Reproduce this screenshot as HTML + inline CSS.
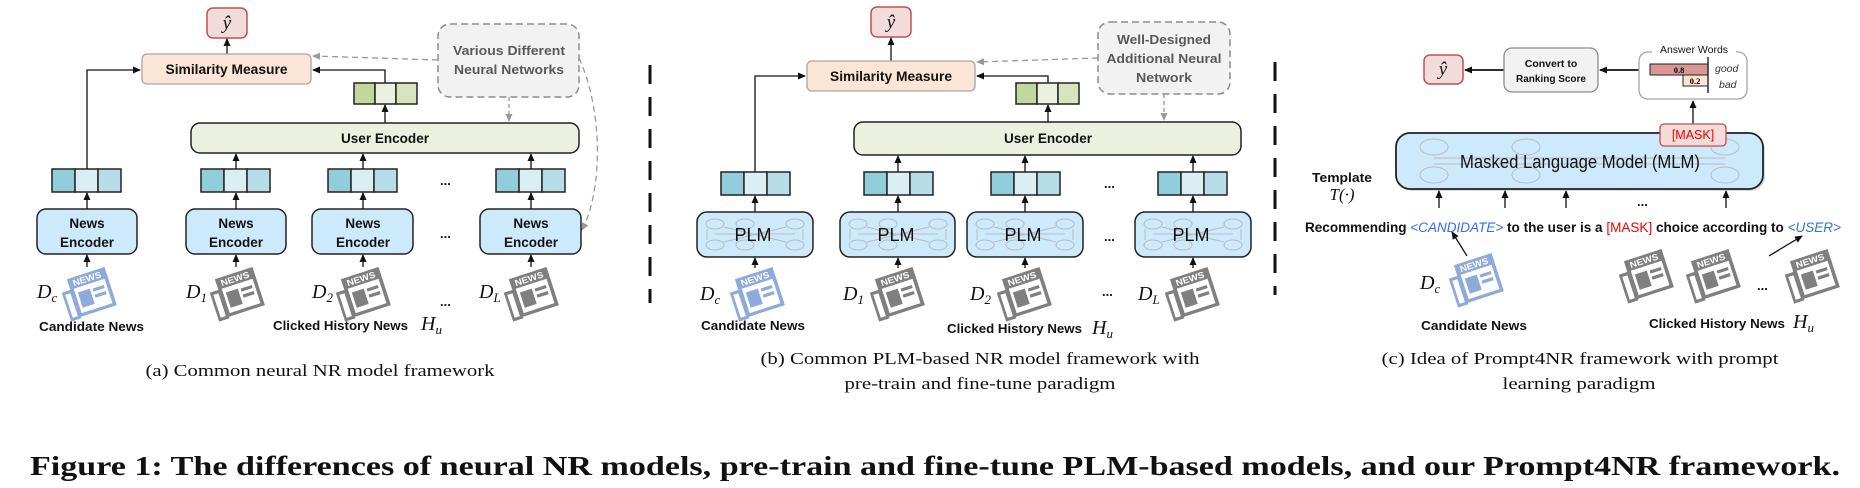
<!DOCTYPE html>
<html><head><meta charset="utf-8"><style>
html,body{margin:0;padding:0;background:#fff;}
svg{display:block;}
.lb{font-family:"Liberation Sans",sans-serif;font-weight:bold;fill:#111;}
.cap{font-family:"Liberation Serif",serif;fill:#111;font-size:17px;}
.it{font-family:"Liberation Serif",serif;font-style:italic;fill:#111;}
.nw{font-family:"Liberation Sans",sans-serif;font-weight:bold;font-size:11px;}
</style></head><body>
<svg width="1860" height="488" viewBox="0 0 1860 488" xmlns="http://www.w3.org/2000/svg">
<defs>
<marker id="ar" markerWidth="8" markerHeight="8" refX="7" refY="4" orient="auto" markerUnits="userSpaceOnUse"><path d="M0,0.5 L8,4 L0,7.5 z" fill="#111"/></marker>
<marker id="ag" markerWidth="8" markerHeight="8" refX="7" refY="4" orient="auto" markerUnits="userSpaceOnUse"><path d="M0,0.5 L8,4 L0,7.5 z" fill="#999"/></marker>
<g id="npb"><path d="M2 18 h12 v38 h-12 z" fill="#8eaadb"/><path d="M5 22 h6 v30 h-6 z" fill="#fff"/><rect x="12" y="4" width="44" height="50" fill="#8eaadb"/><rect x="16" y="18" width="36" height="32" fill="#fff"/><rect x="19" y="24" width="14" height="20" fill="#8eaadb"/><rect x="36" y="25" width="13" height="4" fill="#8eaadb"/><rect x="36" y="33" width="13" height="4" fill="#8eaadb"/><text x="17" y="15" class="nw" fill="#fff">NEWS</text></g>
<g id="npg"><path d="M2 18 h12 v38 h-12 z" fill="#7f7f7f"/><path d="M5 22 h6 v30 h-6 z" fill="#fff"/><rect x="12" y="4" width="44" height="50" fill="#7f7f7f"/><rect x="16" y="18" width="36" height="32" fill="#fff"/><rect x="19" y="24" width="14" height="20" fill="#7f7f7f"/><rect x="36" y="25" width="13" height="4" fill="#7f7f7f"/><rect x="36" y="33" width="13" height="4" fill="#7f7f7f"/><text x="17" y="15" class="nw" fill="#fff">NEWS</text></g>
<g id="vb"><rect x="0" y="0" width="23" height="23" fill="#92cddc" stroke="#222" stroke-width="1.5"/><rect x="23" y="0" width="23" height="23" fill="#daeef3" stroke="#222" stroke-width="1.5"/><rect x="46" y="0" width="23" height="23" fill="#b7dee8" stroke="#222" stroke-width="1.5"/></g>
<g id="vg"><rect x="0" y="0" width="21" height="21" fill="#c3d69b" stroke="#222" stroke-width="1.5"/><rect x="21" y="0" width="21" height="21" fill="#ebf1de" stroke="#222" stroke-width="1.5"/><rect x="42" y="0" width="21" height="21" fill="#d7e4bd" stroke="#222" stroke-width="1.5"/></g>
<g id="net" stroke="#bbb" fill="none" stroke-width="1"><ellipse cx="18" cy="10" rx="9" ry="5"/><ellipse cx="18" cy="31" rx="9" ry="5"/><ellipse cx="48" cy="10" rx="9" ry="5"/><ellipse cx="48" cy="31" rx="9" ry="5"/><ellipse cx="98" cy="10" rx="9" ry="5"/><ellipse cx="98" cy="31" rx="9" ry="5"/><path d="M18 20 L98 20 M27 13 L89 28 M27 28 L89 13 M10 15 v11 M106 15 v11"/></g>
</defs>

<!-- ===== Panel A ===== -->
<rect x="207" y="8" width="40" height="30" rx="6" fill="#f2dcdb" stroke="#c0504d" stroke-width="1.5"/>
<text x="227" y="29" class="it" font-size="19" text-anchor="middle">ŷ</text>
<line x1="227" y1="54" x2="227" y2="39" stroke="#111" stroke-width="1.3" marker-end="url(#ar)"/>
<rect x="142" y="54" width="169" height="30" rx="5" fill="#fbe5d6" stroke="#a6a6a6" stroke-width="1.3"/>
<text x="226.5" y="74" class="lb" font-size="13.5" text-anchor="middle" textLength="122" lengthAdjust="spacingAndGlyphs">Similarity Measure</text>
<rect x="438" y="24" width="141" height="73" rx="12" fill="#f2f2f2" stroke="#8c8c8c" stroke-width="1.5" stroke-dasharray="7,4"/>
<text x="509" y="55" class="lb" font-size="13" style="fill:#595959" text-anchor="middle" textLength="112" lengthAdjust="spacingAndGlyphs">Various Different</text>
<text x="509" y="74" class="lb" font-size="13" style="fill:#595959" text-anchor="middle" textLength="110" lengthAdjust="spacingAndGlyphs">Neural Networks</text>
<path d="M438 60 L313 56" stroke="#999" stroke-width="1.3" stroke-dasharray="6,4" fill="none" marker-end="url(#ag)"/>
<path d="M509 97 L509 121" stroke="#999" stroke-width="1.3" stroke-dasharray="4,3" fill="none" marker-end="url(#ag)"/>
<path d="M579 58 C603 110 603 190 582 230" stroke="#999" stroke-width="1.3" stroke-dasharray="6,4" fill="none" marker-end="url(#ag)"/>
<path d="M87 169 V70 H140" stroke="#111" stroke-width="1.3" fill="none" marker-end="url(#ar)"/>
<path d="M385 83 V70 H313" stroke="#111" stroke-width="1.3" fill="none" marker-end="url(#ar)"/>
<use href="#vg" x="354" y="83"/>
<line x1="385" y1="123" x2="385" y2="105" stroke="#111" stroke-width="1.3" marker-end="url(#ar)"/>
<rect x="191" y="123" width="388" height="30" rx="9" fill="#ebf1de" stroke="#222" stroke-width="1.5"/>
<text x="385" y="143" class="lb" font-size="13.5" text-anchor="middle" textLength="88" lengthAdjust="spacingAndGlyphs">User Encoder</text>
<g stroke="#111" stroke-width="1.3" marker-end="url(#ar)">
<line x1="236" y1="169" x2="236" y2="154"/><line x1="363" y1="169" x2="363" y2="154"/><line x1="531" y1="169" x2="531" y2="154"/>
<line x1="87" y1="209" x2="87" y2="193"/><line x1="236" y1="209" x2="236" y2="193"/><line x1="363" y1="209" x2="363" y2="193"/><line x1="531" y1="209" x2="531" y2="193"/>
<line x1="87" y1="267" x2="87" y2="255"/><line x1="236" y1="267" x2="236" y2="255"/><line x1="363" y1="267" x2="363" y2="255"/><line x1="531" y1="267" x2="531" y2="255"/>
</g>
<use href="#vb" x="52" y="169"/><use href="#vb" x="201" y="169"/><use href="#vb" x="328" y="169"/><use href="#vb" x="496" y="169"/>
<g fill="#cdeafd" stroke="#222" stroke-width="1.5">
<rect x="37" y="209" width="100" height="45" rx="9"/><rect x="186" y="209" width="100" height="45" rx="9"/><rect x="312" y="209" width="101" height="45" rx="9"/><rect x="480" y="209" width="101" height="45" rx="9"/></g>
<g class="lb" font-size="13.5" text-anchor="middle">
<text x="87" y="228">News</text><text x="87" y="247">Encoder</text>
<text x="236" y="228">News</text><text x="236" y="247">Encoder</text>
<text x="363" y="228">News</text><text x="363" y="247">Encoder</text>
<text x="531" y="228">News</text><text x="531" y="247">Encoder</text></g>
<g class="lb" font-size="13"><text x="440" y="185">...</text><text x="440" y="238">...</text><text x="440" y="306">...</text></g>
<g transform="translate(62,270) rotate(-18 27 25) scale(0.9,0.8)"><use href="#npb"/></g>
<g transform="translate(210,270) rotate(-18 27 25) scale(0.9,0.8)"><use href="#npg"/></g>
<g transform="translate(336,270) rotate(-18 27 25) scale(0.9,0.8)"><use href="#npg"/></g>
<g transform="translate(504,270) rotate(-18 27 25) scale(0.9,0.8)"><use href="#npg"/></g>
<g class="it" font-size="20"><text x="37" y="298">D<tspan font-size="13" dy="4">c</tspan></text><text x="186" y="298">D<tspan font-size="13" dy="4">1</tspan></text><text x="312" y="298">D<tspan font-size="13" dy="4">2</tspan></text><text x="479" y="298">D<tspan font-size="13" dy="4">L</tspan></text></g>
<text x="39" y="331" class="lb" font-size="13" textLength="105" lengthAdjust="spacingAndGlyphs">Candidate News</text>
<text x="273" y="330" class="lb" font-size="13" textLength="135" lengthAdjust="spacingAndGlyphs">Clicked History News</text>
<text x="421" y="330" class="it" font-size="20">H<tspan font-size="13" dy="4">u</tspan></text>
<text x="320" y="376" class="cap" text-anchor="middle" textLength="349" lengthAdjust="spacingAndGlyphs">(a) Common neural NR model framework</text>

<!-- separators -->
<line x1="650" y1="65" x2="650" y2="303" stroke="#111" stroke-width="3" stroke-dasharray="19,13"/>
<line x1="1275" y1="62" x2="1275" y2="295" stroke="#111" stroke-width="3" stroke-dasharray="19,13"/>

<!-- ===== Panel B ===== -->
<rect x="871" y="7" width="40" height="30" rx="6" fill="#f2dcdb" stroke="#c0504d" stroke-width="1.5"/>
<text x="891" y="28" class="it" font-size="19" text-anchor="middle">ŷ</text>
<line x1="891" y1="61" x2="891" y2="38" stroke="#111" stroke-width="1.3" marker-end="url(#ar)"/>
<rect x="807" y="61" width="168" height="30" rx="5" fill="#fbe5d6" stroke="#a6a6a6" stroke-width="1.3"/>
<text x="891" y="81" class="lb" font-size="13.5" text-anchor="middle" textLength="122" lengthAdjust="spacingAndGlyphs">Similarity Measure</text>
<rect x="1098" y="22" width="132" height="72" rx="12" fill="#f2f2f2" stroke="#8c8c8c" stroke-width="1.5" stroke-dasharray="7,4"/>
<text x="1164" y="44" class="lb" font-size="13" style="fill:#595959" text-anchor="middle" textLength="94" lengthAdjust="spacingAndGlyphs">Well-Designed</text>
<text x="1164" y="63" class="lb" font-size="13" style="fill:#595959" text-anchor="middle" textLength="115" lengthAdjust="spacingAndGlyphs">Additional Neural</text>
<text x="1164" y="82" class="lb" font-size="13" style="fill:#595959" text-anchor="middle" textLength="56" lengthAdjust="spacingAndGlyphs">Network</text>
<path d="M1098 58 L977 62" stroke="#999" stroke-width="1.3" stroke-dasharray="6,4" fill="none" marker-end="url(#ag)"/>
<path d="M1164 94 L1164 120" stroke="#999" stroke-width="1.3" stroke-dasharray="4,3" fill="none" marker-end="url(#ag)"/>
<path d="M755 172 V76 H805" stroke="#111" stroke-width="1.3" fill="none" marker-end="url(#ar)"/>
<path d="M1048 83 V76 H977" stroke="#111" stroke-width="1.3" fill="none" marker-end="url(#ar)"/>
<use href="#vg" x="1016" y="83"/>
<line x1="1048" y1="122" x2="1048" y2="105" stroke="#111" stroke-width="1.3" marker-end="url(#ar)"/>
<rect x="854" y="122" width="387" height="33" rx="9" fill="#ebf1de" stroke="#222" stroke-width="1.5"/>
<text x="1048" y="143" class="lb" font-size="13.5" text-anchor="middle" textLength="88" lengthAdjust="spacingAndGlyphs">User Encoder</text>
<g stroke="#111" stroke-width="1.3" marker-end="url(#ar)">
<line x1="898" y1="172" x2="898" y2="156"/><line x1="1025" y1="172" x2="1025" y2="156"/><line x1="1193" y1="172" x2="1193" y2="156"/>
<line x1="755" y1="212" x2="755" y2="196"/><line x1="898" y1="212" x2="898" y2="196"/><line x1="1025" y1="212" x2="1025" y2="196"/><line x1="1193" y1="212" x2="1193" y2="196"/>
<line x1="755" y1="268" x2="755" y2="258"/><line x1="898" y1="268" x2="898" y2="258"/><line x1="1025" y1="268" x2="1025" y2="258"/><line x1="1193" y1="268" x2="1193" y2="258"/>
</g>
<use href="#vb" x="721" y="172"/><use href="#vb" x="864" y="172"/><use href="#vb" x="991" y="172"/><use href="#vb" x="1158" y="172"/>
<g fill="#cdeafd" stroke="#222" stroke-width="1.5">
<rect x="697" y="212" width="116" height="45" rx="10"/><rect x="840" y="212" width="115" height="45" rx="10"/><rect x="967" y="212" width="116" height="45" rx="10"/><rect x="1135" y="212" width="116" height="45" rx="10"/></g>
<use href="#net" x="697" y="214"/><use href="#net" x="840" y="214"/><use href="#net" x="967" y="214"/><use href="#net" x="1135" y="214"/>
<g font-family="Liberation Sans, sans-serif" font-size="18" fill="#111" text-anchor="middle">
<text x="753" y="241">PLM</text><text x="896" y="241">PLM</text><text x="1023" y="241">PLM</text><text x="1191" y="241">PLM</text></g>
<g class="lb" font-size="13"><text x="1104" y="188">...</text><text x="1104" y="241">...</text><text x="1102" y="296">...</text></g>
<g transform="translate(730,270) rotate(-18 27 25) scale(0.9,0.8)"><use href="#npb"/></g>
<g transform="translate(870,270) rotate(-18 27 25) scale(0.9,0.8)"><use href="#npg"/></g>
<g transform="translate(997,270) rotate(-18 27 25) scale(0.9,0.8)"><use href="#npg"/></g>
<g transform="translate(1165,270) rotate(-18 27 25) scale(0.9,0.8)"><use href="#npg"/></g>
<g class="it" font-size="20"><text x="700" y="300">D<tspan font-size="13" dy="4">c</tspan></text><text x="843" y="300">D<tspan font-size="13" dy="4">1</tspan></text><text x="970" y="300">D<tspan font-size="13" dy="4">2</tspan></text><text x="1138" y="300">D<tspan font-size="13" dy="4">L</tspan></text></g>
<text x="701" y="330" class="lb" font-size="13" textLength="104" lengthAdjust="spacingAndGlyphs">Candidate News</text>
<text x="947" y="333" class="lb" font-size="13" textLength="135" lengthAdjust="spacingAndGlyphs">Clicked History News</text>
<text x="1092" y="334" class="it" font-size="20">H<tspan font-size="13" dy="4">u</tspan></text>
<text x="980" y="364" class="cap" text-anchor="middle" textLength="439" lengthAdjust="spacingAndGlyphs">(b) Common PLM-based NR model framework with</text>
<text x="980" y="389" class="cap" text-anchor="middle" textLength="271" lengthAdjust="spacingAndGlyphs">pre-train and fine-tune paradigm</text>

<!-- ===== Panel C ===== -->
<rect x="1424" y="55" width="39" height="29" rx="6" fill="#f2dcdb" stroke="#c0504d" stroke-width="1.5"/>
<text x="1443" y="75" class="it" font-size="19" text-anchor="middle">ŷ</text>
<line x1="1504" y1="70" x2="1465" y2="70" stroke="#111" stroke-width="1.8" marker-end="url(#ar)"/>
<rect x="1504" y="48" width="94" height="44" rx="8" fill="#f2f2f2" stroke="#8c8c8c" stroke-width="1.3"/>
<text x="1551" y="67" class="lb" font-size="10.5" text-anchor="middle">Convert to</text>
<text x="1551" y="82" class="lb" font-size="10.5" text-anchor="middle" textLength="70" lengthAdjust="spacingAndGlyphs">Ranking Score</text>
<line x1="1650" y1="70" x2="1600" y2="70" stroke="#111" stroke-width="1.8" marker-end="url(#ar)"/>
<rect x="1639" y="52" width="108" height="47" rx="9" fill="#fff" stroke="#a6a6a6" stroke-width="1.3"/>
<rect x="1652" y="44" width="84" height="12" fill="#fff"/>
<text x="1694" y="53" font-family="Liberation Sans,sans-serif" font-size="10.5" fill="#111" text-anchor="middle">Answer Words</text>
<rect x="1650" y="64" width="58" height="11" fill="#d99694" stroke="#222" stroke-width="1"/>
<rect x="1683" y="75" width="25" height="11" fill="#fbe5d6" stroke="#222" stroke-width="1"/>
<line x1="1708" y1="57" x2="1708" y2="93" stroke="#111" stroke-width="1.3"/>
<text x="1679" y="73" font-family="Liberation Serif,serif" font-size="8.5" font-weight="bold" text-anchor="middle">0.8</text>
<text x="1695" y="84" font-family="Liberation Serif,serif" font-size="8.5" font-weight="bold" text-anchor="middle">0.2</text>
<text x="1715" y="72" font-family="Liberation Sans,sans-serif" font-style="italic" font-size="10.5" fill="#333">good</text>
<text x="1719" y="88" font-family="Liberation Sans,sans-serif" font-style="italic" font-size="10.5" fill="#333">bad</text>
<line x1="1693" y1="124" x2="1693" y2="101" stroke="#111" stroke-width="1.3" marker-end="url(#ar)"/>
<rect x="1398" y="135" width="367" height="56" rx="14" fill="#999" opacity="0.35"/>
<rect x="1396" y="133" width="367" height="56" rx="14" fill="#cdeafd" stroke="#222" stroke-width="1.8"/>
<g stroke="#bbb" fill="none" stroke-width="1"><ellipse cx="1434" cy="147" rx="14" ry="8"/><ellipse cx="1434" cy="175" rx="14" ry="8"/><ellipse cx="1526" cy="147" rx="14" ry="8"/><ellipse cx="1526" cy="175" rx="14" ry="8"/><ellipse cx="1725" cy="147" rx="14" ry="8"/><ellipse cx="1725" cy="175" rx="14" ry="8"/><path d="M1434 158 L1725 158 M1434 164 L1725 164"/></g>
<text x="1580" y="168" font-family="Liberation Sans,sans-serif" font-size="18" fill="#111" text-anchor="middle" textLength="240" lengthAdjust="spacingAndGlyphs">Masked Language Model (MLM)</text>
<rect x="1660" y="124" width="66" height="22" rx="4" fill="#f2dcdb" stroke="#c0504d" stroke-width="1.3"/>
<text x="1693" y="139" font-family="Liberation Sans,sans-serif" font-size="12.5" fill="#e00" text-anchor="middle">[MASK]</text>
<text x="1342" y="182" class="lb" font-size="13" text-anchor="middle" textLength="60" lengthAdjust="spacingAndGlyphs">Template</text>
<text x="1342" y="200" class="it" font-size="17" text-anchor="middle">T(·)</text>
<g stroke="#111" stroke-width="1.3" marker-end="url(#ar)">
<line x1="1439" y1="208" x2="1439" y2="191"/><line x1="1505" y1="208" x2="1505" y2="191"/><line x1="1566" y1="208" x2="1566" y2="191"/><line x1="1726" y1="208" x2="1726" y2="191"/>
<line x1="1467" y1="256" x2="1452" y2="232"/><line x1="1769" y1="256" x2="1802" y2="236"/></g>
<text x="1637" y="206" class="lb" font-size="13">...</text>
<text x="1305" y="232" class="lb" font-size="13.5" textLength="536" lengthAdjust="spacingAndGlyphs">Recommending <tspan fill="#2f6bff" font-style="italic" font-weight="normal">&lt;CANDIDATE&gt;</tspan> to the user is a <tspan fill="#e00" font-weight="normal">[MASK]</tspan> choice according to <tspan fill="#2f6bff" font-style="italic" font-weight="normal">&lt;USER&gt;</tspan></text>
<g transform="translate(1449,256) rotate(-18 27 25) scale(0.9,0.8)"><use href="#npb"/></g>
<g transform="translate(1619,252) rotate(-18 27 25) scale(0.9,0.8)"><use href="#npg"/></g>
<g transform="translate(1686,252) rotate(-18 27 25) scale(0.9,0.8)"><use href="#npg"/></g>
<g transform="translate(1785,252) rotate(-18 27 25) scale(0.9,0.8)"><use href="#npg"/></g>
<text x="1757" y="290" class="lb" font-size="13">...</text>
<text x="1420" y="289" class="it" font-size="20">D<tspan font-size="13" dy="4">c</tspan></text>
<text x="1421" y="330" class="lb" font-size="13" textLength="106" lengthAdjust="spacingAndGlyphs">Candidate News</text>
<text x="1649" y="328" class="lb" font-size="13" textLength="136" lengthAdjust="spacingAndGlyphs">Clicked History News</text>
<text x="1793" y="328" class="it" font-size="20">H<tspan font-size="13" dy="4">u</tspan></text>
<text x="1580" y="364" class="cap" text-anchor="middle" textLength="397" lengthAdjust="spacingAndGlyphs">(c) Idea of Prompt4NR framework with prompt</text>
<text x="1579" y="389" class="cap" text-anchor="middle" textLength="153" lengthAdjust="spacingAndGlyphs">learning paradigm</text>

<text x="935" y="475" font-family="Liberation Serif,serif" font-weight="bold" font-size="27" fill="#111" text-anchor="middle" textLength="1810" lengthAdjust="spacingAndGlyphs">Figure 1: The differences of neural NR models, pre-train and fine-tune PLM-based models, and our Prompt4NR framework.</text>
</svg>
</body></html>
